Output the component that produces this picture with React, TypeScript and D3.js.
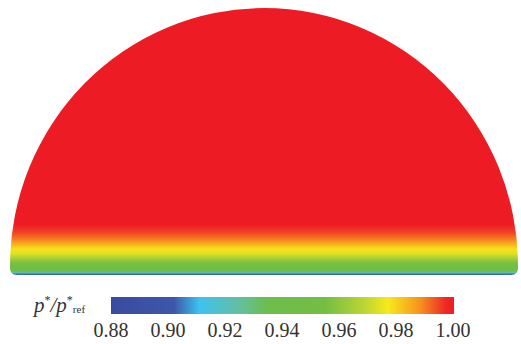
import React, { useEffect, useRef } from "react";
import * as d3 from "d3";

// colour map of the bar (value -> colour)
const cmapValues = [0.88, 0.902, 0.911, 0.925, 0.935, 0.955, 0.968, 0.977, 0.988, 0.997, 1.0];
const cmapColors = [
  "#3a4b9f", "#3d57a8", "#3cc3ef", "#64bfa0", "#6cbd4a", "#74be43",
  "#b9d433", "#f7e91a", "#f7931e", "#ee2a24", "#ed1c24",
];

// pressure profile over the dome, by normalised height above the base
const heights = [0, 0.004, 0.008, 0.015, 0.025, 0.037, 0.05, 0.067, 0.082, 0.097, 0.115, 0.135, 0.16, 0.19, 1.0];
const pressures = [0.885, 0.905, 0.92, 0.94, 0.946, 0.953, 0.958, 0.968, 0.974, 0.978, 0.984, 0.99, 0.995, 1.0, 1.0];

const tickValues = [0.88, 0.9, 0.92, 0.94, 0.96, 0.98, 1.0];

const SERIF = "Times New Roman, Tinos, Liberation Serif, DejaVu Serif, serif";

const App: React.FC = () => {
  const ref = useRef<SVGSVGElement | null>(null);
  const width = 521;
  const height = 344;

  useEffect(() => {
    if (!ref.current) return;
    const svg = d3.select(ref.current);
    svg.selectAll("*").remove();

    const color = d3
      .scaleLinear<string>()
      .domain(cmapValues)
      .range(cmapColors)
      .interpolate(d3.interpolateRgb)
      .clamp(true);

    const defs = svg.append("defs");

    // dome geometry
    const left = 10;
    const right = 518;
    const rx = (right - left) / 2;
    const baseY = 275;
    const topY = 8;
    const cy = 266;
    const ry = cy - topY;
    const r = 7;

    const yScale = d3.scaleLinear().domain([0, 1]).range([baseY, topY]);

    const domeGrad = defs
      .append("linearGradient")
      .attr("id", "domeGrad")
      .attr("gradientUnits", "userSpaceOnUse")
      .attr("x1", 0)
      .attr("x2", 0)
      .attr("y1", yScale(0))
      .attr("y2", yScale(1));
    heights.forEach((h, i) => {
      domeGrad
        .append("stop")
        .attr("offset", h)
        .attr("stop-color", color(pressures[i]));
    });

    const dome =
      `M${left},${cy} A${rx},${ry} 0 0 1 ${right},${cy} ` +
      `L${right},${baseY - r} Q${right},${baseY} ${right - r},${baseY} ` +
      `L${left + r},${baseY} Q${left},${baseY} ${left},${baseY - r} Z`;
    svg.append("path").attr("d", dome).attr("fill", "url(#domeGrad)");

    // colour bar
    const xScale = d3.scaleLinear().domain([0.88, 1.0]).range([111, 453]);
    const barGrad = defs
      .append("linearGradient")
      .attr("id", "barGrad")
      .attr("x1", "0%")
      .attr("x2", "100%")
      .attr("y1", "0%")
      .attr("y2", "0%");
    cmapValues.forEach((v, i) => {
      barGrad
        .append("stop")
        .attr("offset", (v - 0.88) / 0.12)
        .attr("stop-color", cmapColors[i]);
    });
    svg
      .append("rect")
      .attr("x", xScale(0.88))
      .attr("y", 297)
      .attr("width", xScale(1.0) - xScale(0.88) + 1)
      .attr("height", 17)
      .attr("fill", "url(#barGrad)");

    svg
      .append("g")
      .selectAll("text")
      .data(tickValues)
      .enter()
      .append("text")
      .attr("x", (d) => xScale(d))
      .attr("y", 337)
      .attr("text-anchor", "middle")
      .style("font-family", SERIF)
      .style("font-size", "20px")
      .attr("fill", "#333")
      .text((d) => d3.format(".2f")(d));

    // label p*/p*_ref
    const label = svg
      .append("text")
      .attr("x", 34)
      .attr("y", 312)
      .style("font-family", SERIF)
      .style("font-style", "italic")
      .style("font-size", "21px")
      .attr("fill", "#333");
    label.append("tspan").text("p");
    label.append("tspan").style("font-size", "12px").attr("dy", -8).style("font-style", "normal").text("*");
    label.append("tspan").attr("dy", 8).text("/p");
    label.append("tspan").style("font-size", "12px").attr("dy", -8).style("font-style", "normal").text("*");
    label.append("tspan").style("font-size", "11px").attr("dy", 9).style("font-style", "normal").text("ref");
  }, []);

  return (
    <svg
      ref={ref}
      width={width}
      height={height}
      style={{ position: "absolute", left: 0, top: 0, background: "#fff" }}
    />
  );
};

export default App;
